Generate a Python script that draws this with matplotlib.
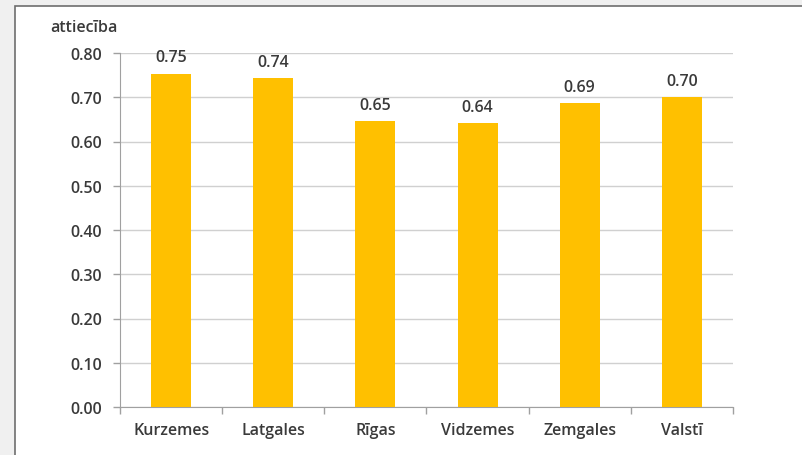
import matplotlib.pyplot as plt
from matplotlib.patches import Rectangle

# Dati
regioni = ["Kurzemes", "Latgales", "Rīgas", "Vidzemes", "Zemgales", "Valstī"]
vertibas = [0.753, 0.743, 0.646, 0.642, 0.686, 0.700]
y_ticks = [0.0, 0.1, 0.2, 0.3, 0.4, 0.5, 0.6, 0.7, 0.8]

teksta_krasa = "#3a3a3a"
fs = 11.5
plt.rcParams["font.family"] = ["Open Sans", "DejaVu Sans"]
plt.rcParams["font.weight"] = "semibold"

fig = plt.figure(figsize=(8.03, 4.56), dpi=100)
fig.patch.set_facecolor("#f0f0f0")

# balts panelis ar rāmi
W, H = 803, 456
fig.patches.append(Rectangle((15 / W, -0.1), 1.1, (H - 7) / H + 0.1,
                             transform=fig.transFigure, facecolor="white",
                             edgecolor="#6e6e6e", linewidth=1.2, zorder=-10))

ax = fig.add_axes([120 / W, 1 - 408 / H, (733 - 120) / W, (408 - 54) / H])
ax.set_facecolor("white")

x = range(len(regioni))
ax.bar(x, vertibas, width=0.39, color="#FFC000", zorder=3)

for i, v in enumerate(vertibas):
    ax.annotate(f"{v:.2f}", (i, v), xytext=(0, 6), textcoords="offset points",
                ha="center", va="bottom", fontsize=fs, color=teksta_krasa)

ax.set_xlim(-0.5, len(regioni) - 0.5)
ax.set_ylim(0, 0.8)
ax.set_yticks(y_ticks)
ax.set_yticklabels([f"{t:.2f}" for t in y_ticks], fontsize=fs, color=teksta_krasa)
ax.yaxis.grid(True, color="#d0d0d0", linewidth=1, zorder=0)

# x ass: kategoriju nosaukumi un iedaļas starp kategorijām
ax.set_xticks(list(x))
ax.set_xticklabels(regioni, fontsize=fs, color=teksta_krasa)
ax.tick_params(axis="x", length=0, pad=11)
ax.set_xticks([i - 0.5 for i in range(len(regioni) + 1)], minor=True)
ax.tick_params(axis="x", which="minor", length=5, color="#a0a0a0", width=1)
ax.tick_params(axis="y", length=5, color="#a0a0a0", width=1, pad=8)

for s in ["top", "right"]:
    ax.spines[s].set_visible(False)
ax.spines["left"].set_color("#a0a0a0")
ax.spines["bottom"].set_color("#a0a0a0")

fig.text(50 / W, 1 - 28 / H, "attiecība", fontsize=fs, color=teksta_krasa,
         va="center", ha="left")

fig.savefig("out.png", dpi=100, facecolor=fig.get_facecolor())
